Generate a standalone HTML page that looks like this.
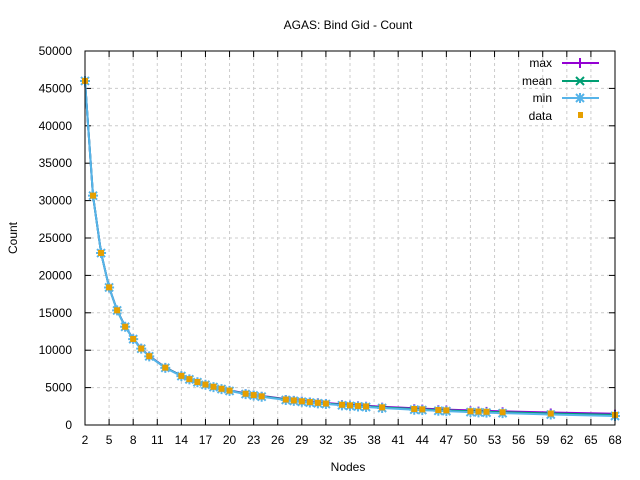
<!DOCTYPE html>
<html><head><meta charset="utf-8"><style>
html,body{margin:0;padding:0;background:#fff}
svg{display:block;font-family:"Liberation Sans",sans-serif;font-size:12px}
</style></head><body>
<svg id="s" width="640" height="480" xmlns="http://www.w3.org/2000/svg">
<rect width="640" height="480" fill="#fff"/>
<text x="348" y="29" text-anchor="middle">AGAS: Bind Gid - Count</text>
<text x="348" y="471" text-anchor="middle">Nodes</text>
<text x="17" y="238" text-anchor="middle" transform="rotate(-90 17 238)">Count</text>
<g id="grid"></g><g id="series"></g>
<rect x="85" y="51" width="530" height="374" fill="none" stroke="#000" stroke-width="1"/>
<g text-anchor="end">
<text x="552" y="67">max</text><text x="552" y="85">mean</text><text x="552" y="102">min</text><text x="552" y="120">data</text>
</g>
<g stroke-width="2">
<line x1="562" y1="63" x2="599" y2="63" stroke="#9400d3"/><path d="M580 58v10" stroke="#9400d3"/>
<line x1="562" y1="81" x2="599" y2="81" stroke="#009e73"/><path d="M576 77l8 8M584 77l-8 8" stroke="#009e73"/>
<line x1="562" y1="98" x2="599" y2="98" stroke="#56b4e9"/><path d="M576 94l8 8M584 94l-8 8M580 93v10M575 98h10" stroke="#56b4e9"/>
</g>
<rect x="578" y="112" width="5" height="6" fill="#e69f00"/>
</svg>
<script>
var ns="http://www.w3.org/2000/svg",g=document.getElementById("grid"),se=document.getElementById("series");
function X(n){return 85+(n-2)*530/66}function Y(v){return 425-v*374/50000}
function el(p,t,a,txt){var e=document.createElementNS(ns,t);for(var k in a)e.setAttribute(k,a[k]);if(txt!=null)e.textContent=txt;p.appendChild(e);return e}
for(var v=0;v<=50000;v+=5000){var y=Y(v);
 if(v>0&&v<50000)el(g,"line",{x1:85,x2:615,y1:y,y2:y,stroke:"#ccc","stroke-dasharray":"3,3"});
 el(g,"line",{x1:85,x2:91,y1:y,y2:y,stroke:"#000"});el(g,"line",{x1:609,x2:615,y1:y,y2:y,stroke:"#000"});
 el(g,"text",{x:72,y:y+4,"text-anchor":"end"},v);}
for(var n=2;n<=68;n+=3){var x=X(n);
 if(n>2&&n<68)el(g,"line",{x1:x,x2:x,y1:51,y2:425,stroke:"#ccc","stroke-dasharray":"3,3"});
 el(g,"line",{x1:x,x2:x,y1:425,y2:419,stroke:"#000"});el(g,"line",{x1:x,x2:x,y1:51,y2:57,stroke:"#000"});
 el(g,"text",{x:x,y:444,"text-anchor":"middle"},n);}
var N=[2,3,4,5,6,7,8,9,10,12,14,15,16,17,18,19,20,22,23,24,27,28,29,30,31,32,34,35,36,37,39,43,44,46,47,50,51,52,54,60,68];
function val(n,o){return 92000/n+o*(n/68)*150}
[["#9400d3",1],["#009e73",0],["#56b4e9",-1]].forEach(function(s){
 var d=N.map(function(n,i){return(i?"L":"M")+X(n).toFixed(1)+" "+Y(val(n,s[1])).toFixed(1)}).join("");
 el(se,"path",{d:d,fill:"none",stroke:s[0],"stroke-width":2});
 N.forEach(function(n){var x=X(n),y=Y(val(n,s[1]));
  if(s[1]==1)el(se,"path",{d:"M"+x+" "+(y-4)+"v8",stroke:s[0],"stroke-width":2});
  if(s[1]==-1)el(se,"path",{d:"M"+(x-4)+" "+(y-4)+"l8 8M"+(x+4)+" "+(y-4)+"l-8 8M"+x+" "+(y-5)+"v10M"+(x-5)+" "+y+"h10",stroke:s[0],"stroke-width":2});
 });});
N.forEach(function(n){el(se,"rect",{x:X(n)-3,y:Y(val(n,0))-3,width:6,height:6,fill:"#e69f00"})});
</script>
</body></html>
